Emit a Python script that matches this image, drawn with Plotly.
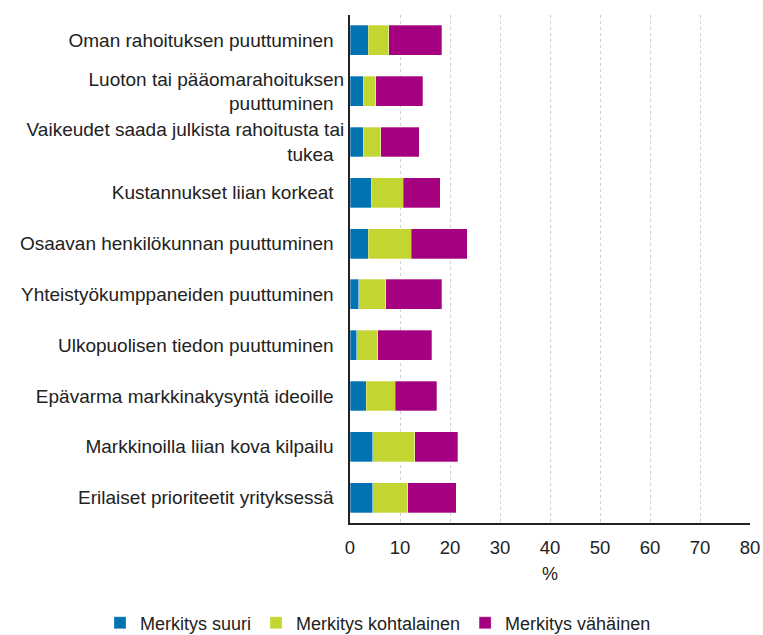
import plotly.graph_objects as go

categories = [
    "Oman rahoituksen puuttuminen",
    "Luoton tai pääomarahoituksen<br>puuttuminen",
    "Vaikeudet saada julkista rahoitusta tai<br>tukea",
    "Kustannukset liian korkeat",
    "Osaavan henkilökunnan puuttuminen",
    "Yhteistyökumppaneiden puuttuminen",
    "Ulkopuolisen tiedon puuttuminen",
    "Epävarma markkinakysyntä ideoille",
    "Markkinoilla liian kova kilpailu",
    "Erilaiset prioriteetit yrityksessä",
]
suuri = [3.6, 2.6, 2.6, 4.2, 3.6, 1.7, 1.3, 3.2, 4.5, 4.5]
kohtalainen = [4.1, 2.5, 3.5, 6.4, 8.6, 5.4, 4.2, 5.8, 8.4, 7.0]
vahainen = [10.6, 9.4, 7.7, 7.4, 11.2, 11.2, 10.8, 8.3, 8.6, 9.7]

series = [
    ("Merkitys suuri", suuri, "#0073B0"),
    ("Merkitys kohtalainen", kohtalainen, "#C2D530"),
    ("Merkitys vähäinen", vahainen, "#A5007F"),
]

fig = go.Figure()
for name, vals, col in series:
    fig.add_trace(go.Bar(
        y=categories, x=vals, name=name, orientation="h",
        marker=dict(color=col, line=dict(color="rgba(255,255,255,0.6)", width=0.5)),
        width=0.59,
    ))

fig.update_layout(
    barmode="stack",
    width=763, height=635,
    margin=dict(l=350, r=13, t=15, b=112, autoexpand=False),
    paper_bgcolor="white", plot_bgcolor="white",
    font=dict(family="Liberation Sans, Arial, sans-serif", size=18, color="#222222"),
    showlegend=True,
    legend=dict(
        orientation="h", xref="paper", yref="paper",
        x=-0.625, xanchor="left", y=-0.197, yanchor="middle",
        font=dict(size=18), itemwidth=30, traceorder="normal",
    ),
)
fig.update_xaxes(
    range=[0, 80], dtick=10, tick0=0, automargin=False,
    showgrid=True, gridcolor="#cfcfcf", griddash="dot", gridwidth=1,
    showline=True, linecolor="#222222", linewidth=2,
    ticks="outside", ticklen=7, tickcolor="rgba(0,0,0,0)",
    tickfont=dict(size=18.5),
    title=dict(text="%", font=dict(size=18), standoff=10),
    zeroline=False,
)
fig.update_yaxes(
    autorange="reversed", automargin=False,
    showline=True, linecolor="#222222", linewidth=2,
    ticks="", tickfont=dict(size=19), ticksuffix="  ",
    showgrid=False,
)

fig.write_html(
    "out.html",
    config={"displayModeBar": False},
    post_script="document.body.style.margin='0px';document.body.style.overflow='hidden';",
)
